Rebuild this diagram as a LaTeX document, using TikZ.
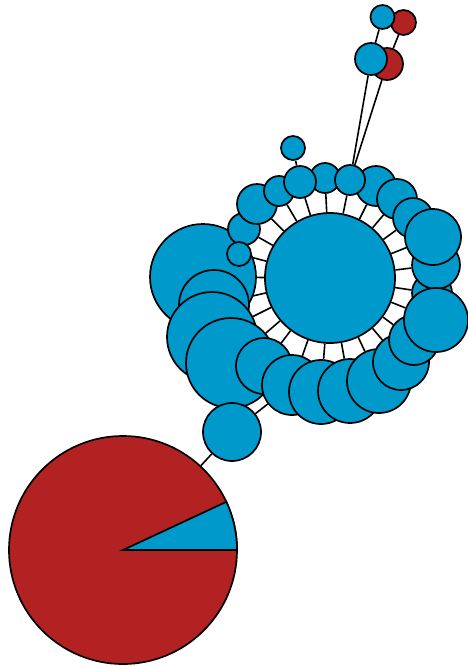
\documentclass[tikz,border=0pt]{standalone}
\usepackage{tikz}
\usetikzlibrary{backgrounds}
\definecolor{hapblue}{HTML}{0099CC}
\definecolor{hapred}{HTML}{B22222}
\tikzset{
  hap/.style={circle, draw, line width=1.7pt, fill=hapblue, inner sep=0pt},
  link/.style={line width=1.6pt}
}
\begin{document}
\begin{tikzpicture}[x=1pt,y=-1pt]
\useasboundingbox (0,0) rectangle (468,667);

\node[hap, minimum size=130pt] (hub) at (330,278) {};
% ring round the hub, later ones lie on top
\foreach \n/\x/\y/\d in {P/325/178/30, N/376/186/40, M/397/199/40, L/413/218/40, I/432/293/40, J/436/265/48, K/433/237/56,
    V/203/277/106, W/214/305/70, X/212/337/90, Y/231/363/90, A/264/366/56, B/292/385/60, C/321/392/64,
    D/350/391/64, E/379/381/64, F/401/362/56, G/414/340/50, H/436/320/64,
    T/244/229/32, S/257/204/40, R/279/191/30, Q/300/182/32, O/350/180/30, U/239/254/24} {
  \node[hap, minimum size=\d pt] (r\n) at (\x,\y) {};
}
\node[hap, minimum size=24pt] (tip) at (293,148) {};

\node[hap, fill=hapred, minimum size=32pt] (sr) at (387,64) {};
\node[hap, minimum size=32pt] (sb) at (371,59) {};
\node[hap, fill=hapred, minimum size=25pt] (tr) at (403.5,22.5) {};
\node[hap, minimum size=24pt] (tb) at (382.5,17) {};

\node[hap, minimum size=58pt] (lnk) at (232,432) {};
\node[hap, fill=hapred, minimum size=228pt] (pie) at (123,550) {};
\draw[line width=1.7pt, fill=hapblue] (pie.center) -- ++(114,0) arc[start angle=0, end angle=-25, radius=114] -- cycle;

\begin{pgfonlayer}{background}
\foreach \n in {A,B,C,D,E,F,G,H,I,J,K,L,M,N,O,P,Q,R,S,T,U,V,W,X,Y} {
  \draw[link] (hub) -- (r\n);
}
\draw[link] (rQ) -- (tip);
\draw[link] (rO) -- (sb); \draw[link] (rO) -- (sr);
\draw[link] (sb) -- (tb); \draw[link] (sr) -- (tr);
\draw[link] (rB) -- (lnk); \draw[link] (lnk) -- (pie);
\end{pgfonlayer}
\end{tikzpicture}
\end{document}
